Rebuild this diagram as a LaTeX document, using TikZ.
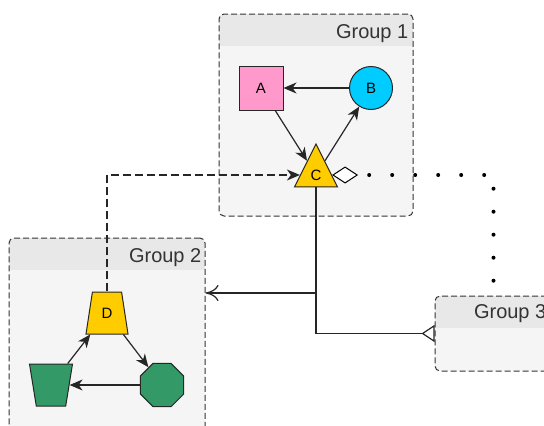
\documentclass[tikz,border=0pt]{standalone}
\usepackage{fontspec}
\setmainfont{Liberation Sans}
\usepackage{tikz}
\usetikzlibrary{arrows.meta, shapes.geometric}

\definecolor{groupfill}{HTML}{F5F5F5}
\definecolor{grouphead}{HTML}{E8E8E8}
\definecolor{linegray}{HTML}{333333}
\definecolor{pinkA}{HTML}{FF99CC}
\definecolor{cyanB}{HTML}{00CCFF}
\definecolor{goldC}{HTML}{FFCC00}
\definecolor{greenE}{HTML}{339966}

\tikzset{
    group/.style = {draw = linegray, fill = groupfill, rounded corners = 5pt, line width = 1pt,
        dash pattern = on 6pt off 3pt, inner sep = 0pt,
        path picture = {\fill[grouphead, sharp corners] (path picture bounding box.north west)
            rectangle ([yshift = -32pt]path picture bounding box.north east);}},
    grouptitle/.style = {font = {\fontsize{20}{24}\selectfont}, text = black!80, anchor = base east, inner sep = 0pt},
    shapenode/.style = {draw = black!85, line width = 1pt, inner sep = 0pt, font = {\fontsize{15}{18}\selectfont}},
    link/.style = {draw = black!85, line width = 1.2pt, -{Stealth[length = 13pt, width = 11pt, inset = 4pt]}},
    plain/.style = {draw = black!85, line width = 1.2pt},
}

\begin{document}
\begin{tikzpicture}[x = 1pt, y = -1pt]
    \useasboundingbox (0, 0) rectangle (544, 426);

    % group boxes
    \node[group, minimum width = 194pt, minimum height = 202pt] (g1) at (316, 115) {};
    \node[group, minimum width = 196pt, minimum height = 202pt] (g2) at (107, 339) {};
    \node[group, minimum width = 117pt, minimum height = 75pt] (g3) at (493.5, 333.5) {};
    \node[grouptitle] (t1) at ([xshift = -5pt, yshift = -25pt]g1.north east) {Group 1};
    \node[grouptitle] (t2) at ([xshift = -4pt, yshift = -25pt]g2.north east) {Group 2};
    \node[grouptitle] (t3) at ([xshift = -6pt, yshift = -23pt]g3.north east) {Group 3};

    % first group
    \node[shapenode, fill = pinkA, minimum size = 44pt] (A) at (261, 88) {A};
    \node[shapenode, circle, fill = cyanB, minimum size = 43pt] (B) at (371, 88) {B};
    \node[shapenode, isosceles triangle, shape border rotate = 90, isosceles triangle stretches,
        minimum width = 43pt, minimum height = 43pt, fill = goldC] (C) at (316, 175) {C};

    % second group
    \node[shapenode, trapezium, trapezium left angle = 77, trapezium right angle = 77, trapezium stretches,
        minimum width = 42pt, minimum height = 42pt, fill = goldC] (D) at (107, 313) {D};
    \node[shapenode, inner sep = 2pt, trapezium, shape border rotate = 180, trapezium left angle = 77, trapezium right angle = 77,
        trapezium stretches, minimum width = 43pt, minimum height = 42pt, fill = greenE] (E) at (51, 385) {};
    \node[shapenode, inner sep = 2pt, regular polygon, regular polygon sides = 8, minimum size = 47pt, fill = greenE] (F) at (162, 385) {};

    % edges inside the groups
    \draw[link] (B) -- (A);
    \draw[link] (A) -- (C);
    \draw[link] (C) -- (B);
    \draw[link] (E) -- (D);
    \draw[link] (D) -- (F);
    \draw[link] (F) -- (E);

    % edges between the groups
    \coordinate (fork) at (316, 293);
    \coordinate (turn) at (g3.north |- C);
    \draw[link, dash pattern = on 8pt off 4pt] (D) |- (C);
    \draw[plain, -{Computer Modern Rightarrow[length = 13pt, width = 16pt]}] (C) |- (g2.east |- fork);
    \draw[plain, -{Triangle[open, reversed, length = 13pt, width = 17pt]}] (C) |- (g3.west);
    \draw[line width = 4pt, line cap = round, dash pattern = on 0pt off 23pt, dash phase = 8pt,
        {Diamond[fill = white, length = 26pt, width = 17pt, line width = 1pt]}-] (C) -- (turn) -- (g3.north);
\end{tikzpicture}
\end{document}
